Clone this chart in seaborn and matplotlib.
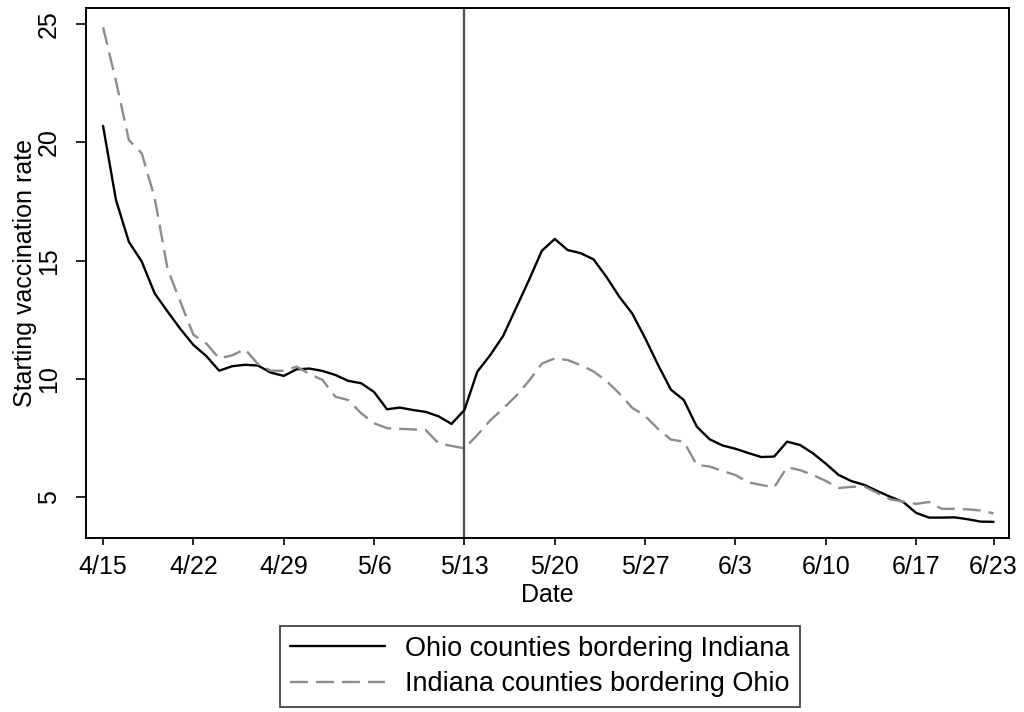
import numpy as np
import pandas as pd
import matplotlib
matplotlib.use('Agg')
import matplotlib.pyplot as plt
import seaborn as sns

# 日期：4/15 到 6/23
dates = pd.date_range('2021-04-15', '2021-06-23', freq='D')
tick_dates = ['2021-04-15', '2021-04-22', '2021-04-29', '2021-05-06', '2021-05-13', '2021-05-20',
              '2021-05-27', '2021-06-03', '2021-06-10', '2021-06-17', '2021-06-23']
tick_labels = ['4/15', '4/22', '4/29', '5/6', '5/13', '5/20', '5/27', '6/3', '6/10', '6/17', '6/23']
event_date = '2021-05-13'

ohio_name = 'Ohio counties bordering Indiana'
indiana_name = 'Indiana counties bordering Ohio'

ohio = [20.7, 17.57, 15.8, 14.96, 13.62, 12.85, 12.11, 11.44, 10.97, 10.35,
        10.54, 10.6, 10.57, 10.27, 10.13, 10.41, 10.44, 10.34, 10.17, 9.92,
        9.82, 9.45, 8.72, 8.79, 8.69, 8.61, 8.42, 8.1, 8.69, 10.31,
        11.01, 11.82, 13.0, 14.18, 15.42, 15.92, 15.45, 15.32, 15.06, 14.32,
        13.48, 12.77, 11.73, 10.6, 9.55, 9.11, 7.99, 7.45, 7.19, 7.05,
        6.87, 6.7, 6.72, 7.35, 7.21, 6.86, 6.42, 5.94, 5.68, 5.52,
        5.26, 5.02, 4.8, 4.34, 4.14, 4.14, 4.15, 4.07, 3.97, 3.96]

indiana = [24.87, 22.6, 20.1, 19.54, 17.65, 14.65, 13.25, 11.87, 11.5, 10.87,
           11.0, 11.26, 10.63, 10.35, 10.35, 10.52, 10.21, 9.96, 9.25, 9.11,
           8.55, 8.13, 7.92, 7.89, 7.87, 7.84, 7.28, 7.17, 7.07, 7.63,
           8.25, 8.75, 9.28, 9.92, 10.65, 10.87, 10.8, 10.59, 10.32, 9.92,
           9.39, 8.78, 8.44, 7.89, 7.44, 7.35, 6.37, 6.3, 6.11, 5.94,
           5.63, 5.52, 5.42, 6.27, 6.15, 5.94, 5.69, 5.39, 5.44, 5.45,
           5.18, 4.91, 4.82, 4.72, 4.8, 4.51, 4.51, 4.49, 4.44, 4.32]

df = pd.DataFrame({
    'Date': list(dates) * 2,
    'rate': ohio + indiana,
    'group': [ohio_name] * len(ohio) + [indiana_name] * len(indiana),
})

sns.set_style('ticks')
plt.rcParams['font.family'] = ['Liberation Sans', 'DejaVu Sans']
plt.rcParams['text.color'] = 'black'
plt.rcParams['axes.labelcolor'] = 'black'
plt.rcParams['xtick.color'] = 'black'
plt.rcParams['ytick.color'] = 'black'

fig = plt.figure(figsize=(10.24, 7.12), dpi=100)
ax = fig.add_axes([0.084, 0.2448, 0.9014, 0.7435])

# 虚线样式
dash_style = (7.6, 3.4)

sns.lineplot(data=df, x='Date', y='rate', hue='group', style='group',
             palette={ohio_name: 'black', indiana_name: '#8c8c8c'},
             dashes={ohio_name: '', indiana_name: dash_style},
             linewidth=1.7, ax=ax, legend=False)

# 5/13 竖线
ax.axvline(pd.Timestamp(event_date), color='#4d4d4d', linewidth=1.6, zorder=0)

ax.set_xlim(dates[0] - pd.Timedelta(days=1.32), dates[-1] + pd.Timedelta(days=1.2))
ax.set_ylim(3.29, 25.67)
ax.set_xticks(pd.to_datetime(tick_dates))
ax.set_xticklabels(tick_labels)
ax.set_yticks([5, 10, 15, 20, 25])
for lbl in ax.get_yticklabels():
    lbl.set_rotation(90)
    lbl.set_va('center')

ax.tick_params(axis='x', labelsize=18, length=5.3, width=1.2, pad=7, colors='black')
ax.tick_params(axis='y', labelsize=18, length=7.4, width=1.2, pad=10.5, colors='black')
ax.set_xlabel('Date', fontsize=18, labelpad=3, color='black')
ax.set_ylabel('Starting vaccination rate', fontsize=18, labelpad=0, color='black')
for sp in ax.spines.values():
    sp.set_linewidth(1.4)
    sp.set_color('black')

# 图例
handles = [plt.Line2D([], [], color='black', linewidth=1.7),
           plt.Line2D([], [], color='#8c8c8c', linewidth=1.7, dashes=dash_style)]
leg = fig.legend(handles, [ohio_name, indiana_name], loc='center',
                 bbox_to_anchor=(0.527, 0.064), fontsize=19.5, frameon=True,
                 fancybox=False, edgecolor='black', handlelength=3.5,
                 handletextpad=0.75, labelspacing=0.34, borderpad=0.38)
leg.get_frame().set_linewidth(1.2)
for t in leg.get_texts():
    t.set_color('black')

fig.savefig('out.png', dpi=100)
